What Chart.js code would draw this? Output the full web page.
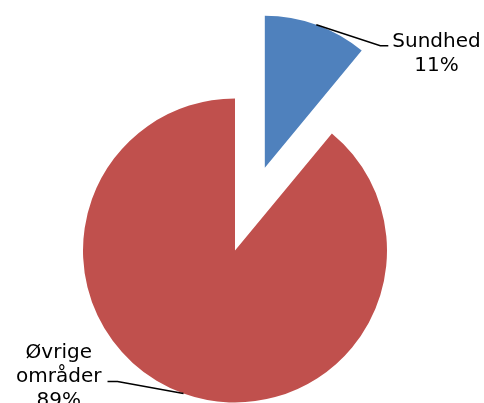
<!DOCTYPE html>
<html>
<head>
<meta charset="utf-8">
<script src="https://cdn.jsdelivr.net/npm/chart.js"></script>
<style>
  body { margin: 0; background: #fff; }
  #wrap { width: 484px; height: 403px; }
</style>
</head>
<body>
<div id="wrap"><canvas id="myChart"></canvas></div>
<script>
// data
var categories = ["Sundhed", "Øvrige områder"];
var categoryLines = [["Sundhed"], ["Øvrige", "områder"]];
var shares = [11, 89];
var shareLabels = ["11%", "89%"];

// pulls a slice out from the centre along its mid angle
var explodePlugin = {
    id: 'explode',
    afterDatasetUpdate: function(chart, args, opts) {
        var dist = opts.distance || [];
        args.meta.data.forEach(function(arc, i) {
            var d = dist[i] || 0;
            if (!d) return;
            var mid = (arc.startAngle + arc.endAngle) / 2;
            arc.x += Math.cos(mid) * d;
            arc.y += Math.sin(mid) * d;
        });
    }
};

// excel style labels with leader lines
var leaderPlugin = {
    id: 'leaderLabels',
    afterDatasetsDraw: function(chart, args, opts) {
        var ctx = chart.ctx;
        var arcs = chart.getDatasetMeta(0).data;
        ctx.save();
        ctx.font = opts.font;
        ctx.fillStyle = '#000';
        ctx.strokeStyle = '#000';
        ctx.lineWidth = 1.5;
        arcs.forEach(function(arc, i) {
            var l = opts.leaders[i];
            var mid = (arc.startAngle + arc.endAngle) / 2;
            var x0 = arc.x + Math.cos(mid) * arc.outerRadius;
            var y0 = arc.y + Math.sin(mid) * arc.outerRadius;
            var dir = l.dx >= 0 ? 1 : -1;
            var x1 = x0 + l.dx, y1 = y0 + l.dy;
            var x2 = x1 + dir * l.tail;
            ctx.beginPath();
            ctx.moveTo(x0, y0);
            ctx.lineTo(x1, y1);
            ctx.lineTo(x2, y1);
            ctx.stroke();

            var lines = categoryLines[i].concat([shareLabels[i]]);
            var maxW = 0;
            lines.forEach(function(t) { maxW = Math.max(maxW, ctx.measureText(t).width); });
            var cx = x2 + dir * (l.gap + maxW / 2);
            ctx.textAlign = 'center';
            ctx.textBaseline = 'alphabetic';
            lines.forEach(function(t, k) {
                ctx.fillText(t, cx, y1 + l.base + k * opts.lineHeight);
            });
        });
        ctx.restore();
    }
};

var ctx = document.getElementById('myChart').getContext('2d');
var chart = new Chart(ctx, {
    type: 'pie',
    data: {
        labels: categories,
        datasets: [{
            data: shares,
            backgroundColor: ['#4F81BD', '#C0504D'],
            borderWidth: 0,
            radius: 152,
            clip: false
        }]
    },
    options: {
        responsive: true,
        maintainAspectRatio: false,
        animation: false,
        layout: { padding: { left: 0, right: 14, top: 98, bottom: 0 } },
        plugins: {
            legend: { display: false },
            tooltip: { enabled: false },
            explode: { distance: [88, 0] },
            leaderLabels: {
                font: '20px "DejaVu Sans"',
                lineHeight: 24,
                leaders: [
                    { dx: 64, dy: 21, tail: 8, gap: 4, base: 1 },
                    { dx: -66, dy: -12, tail: 10, gap: 6, base: -24 }
                ]
            }
        }
    },
    plugins: [explodePlugin, leaderPlugin]
});
</script>
</body>
</html>
